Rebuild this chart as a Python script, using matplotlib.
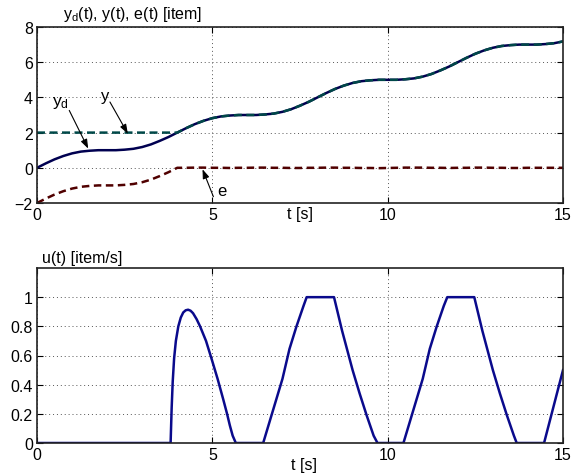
import numpy as np
import matplotlib
matplotlib.use("Agg")
import matplotlib.pyplot as plt

plt.rcParams['font.family'] = ['Liberation Sans', 'DejaVu Sans']
plt.rcParams['mathtext.fontset'] = 'custom'
plt.rcParams['mathtext.rm'] = 'Liberation Sans'
plt.rcParams['mathtext.it'] = 'Liberation Sans:italic'

# ---------------- data ----------------
t_top = [0.00, 0.25, 0.50, 0.75, 1.00, 1.25, 1.50, 1.75, 2.00, 2.25, 2.50, 2.75,
         3.00, 3.25, 3.50, 3.75, 4.00, 4.25, 4.50, 4.75, 5.00, 5.25, 5.50, 5.75,
         6.00, 6.25, 6.50, 6.75, 7.00, 7.25, 7.50, 7.75, 8.00, 8.25, 8.50, 8.75,
         9.00, 9.25, 9.50, 9.75, 10.00, 10.25, 10.50, 10.75, 11.00, 11.25, 11.50,
         11.75, 12.00, 12.25, 12.50, 12.75, 13.00, 13.25, 13.50, 13.75, 14.00,
         14.25, 14.50, 14.75, 15.00]

y_d = [0.00, 0.25, 0.48, 0.67, 0.82, 0.92, 0.97, 1.00, 1.00, 1.00, 1.03, 1.08,
       1.18, 1.33, 1.53, 1.75, 2.00, 2.25, 2.48, 2.67, 2.82, 2.92, 2.97, 3.00,
       3.00, 3.00, 3.03, 3.08, 3.18, 3.33, 3.53, 3.75, 4.00, 4.25, 4.48, 4.67,
       4.82, 4.92, 4.97, 5.00, 5.00, 5.00, 5.03, 5.08, 5.18, 5.33, 5.53, 5.75,
       6.00, 6.25, 6.48, 6.67, 6.82, 6.92, 6.97, 7.00, 7.00, 7.00, 7.03, 7.08,
       7.18]

y_out = [2.00, 2.00, 2.00, 2.00, 2.00, 2.00, 2.00, 2.00, 2.00, 2.00, 2.00, 2.00,
         2.00, 2.00, 2.00, 2.00, 2.00, 2.25, 2.48, 2.67, 2.82, 2.92, 2.97, 3.00,
         3.00, 3.00, 3.03, 3.08, 3.18, 3.33, 3.53, 3.75, 4.00, 4.25, 4.48, 4.67,
         4.82, 4.92, 4.97, 5.00, 5.00, 5.00, 5.03, 5.08, 5.18, 5.33, 5.53, 5.75,
         6.00, 6.25, 6.48, 6.67, 6.82, 6.92, 6.97, 7.00, 7.00, 7.00, 7.03, 7.08,
         7.18]

e_err = [-2.00, -1.75, -1.52, -1.33, -1.18, -1.08, -1.03, -1.00, -1.00, -1.00,
         -0.97, -0.92, -0.82, -0.67, -0.47, -0.25, 0.00, 0.00, 0.01, 0.01, 0.00,
         0.00, -0.01, 0.00, 0.00, 0.01, 0.01, 0.00, 0.00, -0.01, -0.01, 0.00,
         0.00, 0.01, 0.01, 0.00, 0.00, -0.01, -0.01, -0.02, -0.01, 0.00, 0.01,
         0.01, 0.01, 0.00, 0.00, -0.01, 0.00, 0.00, 0.01, 0.01, 0.00, 0.00,
         -0.01, -0.01, 0.00, 0.00, 0.00, 0.00, 0.00]

t_u = [0.00, 3.81, 3.84, 3.87, 3.91, 3.96, 4.03, 4.10, 4.17, 4.24, 4.31, 4.38,
       4.45, 4.55, 4.65, 4.82, 4.98, 5.15, 5.31, 5.42, 5.50, 5.58, 5.67,
       6.45, 6.70, 7.00, 7.20, 7.40, 7.50, 7.60, 7.69, 8.47, 8.70,
       9.00, 9.20, 9.40, 9.50, 9.60, 9.71, 10.45, 10.70, 11.00, 11.20, 11.40,
       11.50, 11.60, 11.70, 12.47, 12.70, 13.00, 13.20, 13.40, 13.50, 13.60,
       13.68, 14.46, 15.00]
u = [0.00, 0.00, 0.24, 0.42, 0.58, 0.70, 0.80, 0.86, 0.895, 0.91, 0.914, 0.907,
     0.89, 0.85, 0.80, 0.70, 0.576, 0.44, 0.30, 0.20, 0.12, 0.05, 0.00,
     0.00, 0.20, 0.44, 0.645, 0.80, 0.87, 0.94, 1.00, 1.00, 0.77,
     0.50, 0.34, 0.19, 0.12, 0.05, 0.00, 0.00, 0.20, 0.44, 0.645, 0.80,
     0.87, 0.94, 1.00, 1.00, 0.77, 0.50, 0.34, 0.19, 0.12, 0.05,
     0.00, 0.00, 0.50]

x_ticks = [0, 5, 10, 15]
y_ticks_top = [-2, 0, 2, 4, 6, 8]
y_ticks_bot = [0, 0.2, 0.4, 0.6, 0.8, 1]
y_ticklabels_bot = ['0', '0.2', '0.4', '0.6', '0.8', '1']

# ---------------- figure ----------------
W, H = 582, 477
fig = plt.figure(figsize=(W / 100, H / 100), dpi=100)

def axes_px(left, top, right, bottom):
    return fig.add_axes([left / W, 1 - bottom / H, (right - left) / W, (bottom - top) / H])

ax1 = axes_px(37, 28, 563, 204)
ax2 = axes_px(37, 269, 563, 444)

for ax in (ax1, ax2):
    ax.set_xlim(0, 15)
    ax.set_xticks(x_ticks)
    ax.grid(True, color='#555555', linestyle=(0, (1, 3)), linewidth=0.7)
    ax.tick_params(direction='in', length=4, width=0.8, labelsize=11.5,
                   top=True, right=True, pad=3, colors='black')
    for s in ax.spines.values():
        s.set_linewidth(1.2)
        s.set_color('#222222')
    ax.set_axisbelow(True)

ax1.set_ylim(-2, 8)
ax1.set_yticks(y_ticks_top)
ax2.set_ylim(0, 1.2)
ax2.set_yticks(y_ticks_bot)
ax2.set_yticklabels(y_ticklabels_bot)

# top plot lines
ax1.plot(t_top, y_d, color='#000050', linewidth=1.8, solid_capstyle='butt')
ax1.plot(t_top, y_out, color='#004848', linewidth=1.8, linestyle=(0, (3.2, 1.8)))
ax1.plot(t_top, e_err, color='#500000', linewidth=1.8, linestyle=(0, (3.0, 1.8)))

# annotations
arrow = dict(arrowstyle='-|>,head_length=0.5,head_width=0.18', color='black',
             lw=0.8, mutation_scale=11, shrinkA=0, shrinkB=0)
ax1.annotate('', xy=(1.46, 1.09), xytext=(0.92, 3.26), arrowprops=arrow)
ax1.annotate('', xy=(2.59, 1.94), xytext=(2.08, 3.74), arrowprops=arrow)
ax1.annotate('', xy=(4.72, -0.08), xytext=(5.03, -1.64), arrowprops=arrow)
ax1.text(0.67, 3.75, r'$\mathregular{y_d}$', fontsize=12.5, ha='center', va='center')
ax1.text(1.95, 4.1, 'y', fontsize=12, ha='center', va='center')
ax1.text(5.28, -1.3, 'e', fontsize=12, ha='center', va='center')

# bottom plot
ax2.plot(t_u, u, color='#0a0a8c', linewidth=1.8)

# labels / titles
fig.text(63 / W, 1 - 19.5 / H, r'$\mathregular{y_d}$(t), y(t), e(t) [item]',
         fontsize=11.5, ha='left', va='baseline')
fig.text(42 / W, 1 - 262.5 / H, 'u(t) [item/s]', fontsize=11.5, ha='left', va='baseline')
fig.text(300 / W, 1 - 215 / H, 't [s]', fontsize=11.5, ha='center', va='center')
fig.text(304 / W, 1 - 466 / H, 't [s]', fontsize=11.5, ha='center', va='center')

fig.savefig('out.png', dpi=100)
